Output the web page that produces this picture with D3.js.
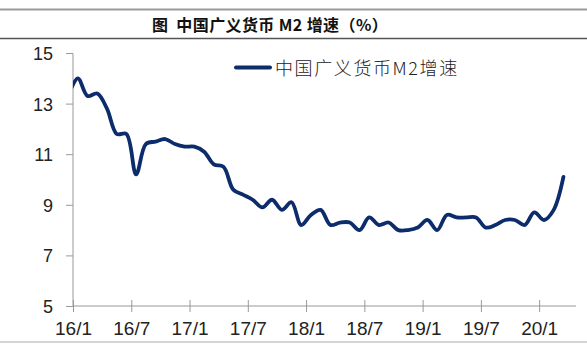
<!DOCTYPE html>
<html>
<head>
<meta charset="utf-8">
<script src="https://cdn.jsdelivr.net/npm/d3@7"></script>
<style>
  html, body { margin: 0; padding: 0; background: #fff; }
  svg { display: block; }
</style>
</head>
<body>
<svg id="chart" width="587" height="344"></svg>
<script>
// ---- data ----
const title = "图  中国广义货币 M2 增速（%）";
const seriesName = "中国广义货币M2增速";
const months = [
  "15/12",
  "16/1","16/2","16/3","16/4","16/5","16/6","16/7","16/8","16/9","16/10","16/11","16/12",
  "17/1","17/2","17/3","17/4","17/5","17/6","17/7","17/8","17/9","17/10","17/11","17/12",
  "18/1","18/2","18/3","18/4","18/5","18/6","18/7","18/8","18/9","18/10","18/11","18/12",
  "19/1","19/2","19/3","19/4","19/5","19/6","19/7","19/8","19/9","19/10","19/11","19/12",
  "20/1","20/2","20/3"
];
const m2Growth = [
  13.3,
  14.0,13.3,13.4,12.8,11.8,11.8,10.2,11.4,11.5,11.6,11.4,11.3,
  11.3,11.1,10.6,10.5,9.6,9.4,9.2,8.9,9.2,8.8,9.1,8.2,
  8.6,8.8,8.2,8.3,8.3,8.0,8.5,8.2,8.3,8.0,8.0,8.1,
  8.4,8.0,8.6,8.5,8.5,8.5,8.1,8.2,8.4,8.4,8.2,8.7,
  8.4,8.8,10.1
];
const xTickLabels = ["16/1","16/7","17/1","17/7","18/1","18/7","19/1","19/7","20/1"];
const yTicks = [5, 7, 9, 11, 13, 15];

(function () {
// ---- layout ----
const svg = d3.select("#chart");
const W = 587, H = 344;
const pL = 73, pR = 578, pT = 53, pB = 306;
const lineColor = "#0c2c6c";

// month offset: "16/1" tick at 0; monthly points centred in their month
const idxOf = lab => { const [yy, mm] = lab.split("/").map(Number); return (yy - 16) * 12 + (mm - 1); };
const x = d3.scaleLinear().domain([0, 52]).range([pL, pR]);
const y = d3.scaleLinear().domain([5, 15]).range([pB, pT]);

// title bar
svg.append("line").attr("x1", 0).attr("x2", W).attr("y1", 9.5).attr("y2", 9.5)
  .attr("stroke", "#9a9a9a").attr("stroke-width", 2);
svg.append("line").attr("x1", 0).attr("x2", W).attr("y1", 38.5).attr("y2", 38.5)
  .attr("stroke", "#555").attr("stroke-width", 1.5);
svg.append("text").attr("x", 270).attr("y", 31).attr("text-anchor", "middle")
  .style("white-space", "pre")
  .attr("font-family", "'Noto Sans CJK SC', sans-serif").attr("font-weight", "bold")
  .attr("font-size", 16).attr("letter-spacing", "0.4px").attr("fill", "#111").text(title);

// bottom rule
svg.append("line").attr("x1", 0).attr("x2", W).attr("y1", 342).attr("y2", 342)
  .attr("stroke", "#aaa").attr("stroke-width", 1);

// y axis
const yAxis = d3.axisLeft(y).tickValues(yTicks).tickSize(7).tickPadding(13).tickFormat(d3.format("d"));
const gy = svg.append("g").attr("transform", `translate(${pL},0)`).call(yAxis);
gy.select(".domain").attr("stroke", "#999").attr("d", `M-7,${pT + 0.5}H0V${pB}`);
gy.selectAll(".tick line").attr("stroke", "#999");
gy.selectAll(".tick text").attr("font-family", "Arial, 'Liberation Sans', sans-serif")
  .attr("font-size", 18).attr("fill", "#222").attr("dy", "0.36em");

// x axis
const xAxis = d3.axisBottom(x).tickValues(xTickLabels.map(idxOf))
  .tickFormat((d, i) => xTickLabels[i]).tickSize(6).tickPadding(10);
const gx = svg.append("g").attr("transform", `translate(0,${pB})`).call(xAxis);
gx.select(".domain").attr("stroke", "#999").attr("d", `M${pL},0H${pR - 2}`);
gx.selectAll(".tick line").attr("stroke", "#999").attr("y1", -6).attr("y2", 6);
gx.selectAll(".tick text").attr("font-family", "Arial, 'Liberation Sans', sans-serif")
  .attr("font-size", 19).attr("fill", "#222").attr("dy", "0.71em");

// clip
svg.append("clipPath").attr("id", "plotclip").append("rect")
  .attr("x", pL).attr("y", 0).attr("width", W - pL).attr("height", H);

const data = months.map((m, i) => ({ t: idxOf(m) + 0.5, v: m2Growth[i] }));
const line = d3.line().x(d => x(d.t)).y(d => y(d.v)).curve(d3.curveCatmullRom.alpha(0.5));
svg.append("path").datum(data).attr("clip-path", "url(#plotclip)")
  .attr("d", line).attr("fill", "none").attr("stroke", lineColor)
  .attr("stroke-width", 3.8).attr("stroke-linejoin", "round").attr("stroke-linecap", "round");

// legend
svg.append("line").attr("x1", 236).attr("x2", 270).attr("y1", 67.5).attr("y2", 67.5)
  .attr("stroke", lineColor).attr("stroke-width", 4).attr("stroke-linecap", "round");
svg.append("text").attr("x", 275).attr("y", 74.5)
  .attr("font-family", "'Noto Sans CJK SC', sans-serif").attr("font-weight", 300)
  .attr("font-size", 18).attr("letter-spacing", "1.6px").attr("fill", "#222").text(seriesName);
})();
</script>
</body>
</html>
